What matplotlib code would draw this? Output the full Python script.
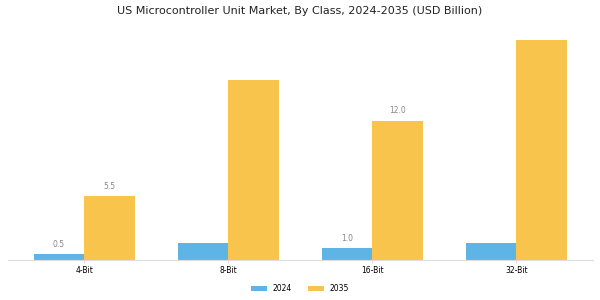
import numpy as np
import matplotlib
matplotlib.use("Agg")
import matplotlib.pyplot as plt

# data
classes = ["4-Bit", "8-Bit", "16-Bit", "32-Bit"]
v2024 = [0.5, 1.5, 1.0, 1.5]
v2035 = [5.5, 15.5, 12.0, 19.0]
shown = [True, False, True, False]  # only some bars carry a value label

c2024 = "#5DB4E5"
c2035 = "#F9C44B"

fig = plt.figure(figsize=(6, 3), dpi=100)
ax = fig.add_axes([0.013, 0.133, 0.975, 0.774])

x = np.arange(len(classes))
w = 0.35
b1 = ax.bar(x - w/2, v2024, w, color=c2024, label="2024")
b2 = ax.bar(x + w/2, v2035, w, color=c2035, label="2035")

for i in range(len(classes)):
    if shown[i]:
        ax.annotate(f"{v2024[i]:.1f}", (x[i] - w/2, v2024[i]), xytext=(0, 4),
                    textcoords="offset points", ha="center", va="bottom",
                    fontsize=5.5, color="#888888")
        ax.annotate(f"{v2035[i]:.1f}", (x[i] + w/2, v2035[i]), xytext=(0, 4),
                    textcoords="offset points", ha="center", va="bottom",
                    fontsize=5.5, color="#888888")

ax.set_xlim(-0.53, 3.53)
ax.set_ylim(0, 20)
ax.set_xticks(x)
ax.set_xticklabels(classes, fontsize=5.5)
ax.tick_params(axis="x", length=2, width=0.5, color="#cccccc", pad=2)
ax.set_yticks([])
for s in ["top", "right", "left"]:
    ax.spines[s].set_visible(False)
ax.spines["bottom"].set_color("#dddddd")
ax.spines["bottom"].set_linewidth(0.8)

fig.suptitle("US Microcontroller Unit Market, By Class, 2024-2035 (USD Billion)",
             fontsize=8, y=0.98, color="#222222")
fig.legend(handles=[b1, b2], loc="lower center", bbox_to_anchor=(0.5, 0.0),
           ncol=2, frameon=False, fontsize=5.5, handlelength=2.1,
           handleheight=0.7, handletextpad=0.65, columnspacing=2.2)

fig.savefig("out.png", dpi=100)
